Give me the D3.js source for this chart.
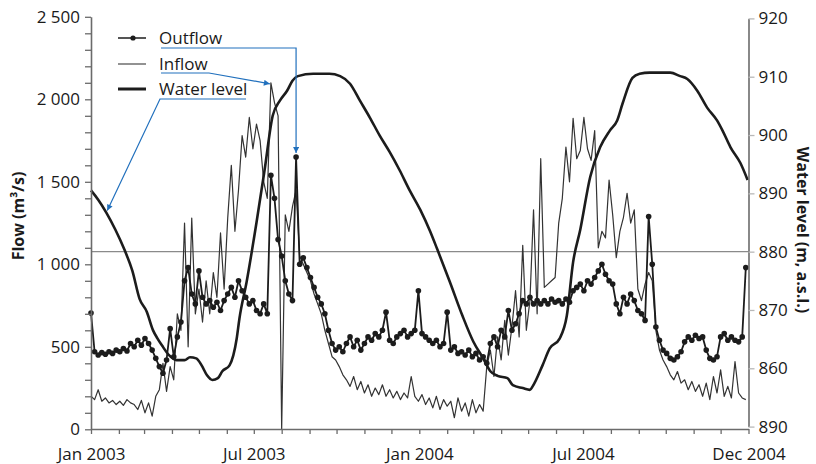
<!DOCTYPE html>
<html><head><meta charset="utf-8">
<script src="https://cdn.jsdelivr.net/npm/d3@7"></script>
<style>
body{margin:0;background:#fff}
text{font-family:"Open Sans","Noto Sans",sans-serif;fill:#1a1a1a}
</style>
</head><body>
<svg id="chart" width="816" height="464"></svg>
<script>
// ---------- data ----------
const startDate = "2003-01-01";
const sampleStepDays = 4;

const outflow = [
  705,470,450,465,455,470,460,480,470,490,475,520,500,540,510,
  550,520,480,430,380,340,420,610,440,560,
  650,900,980,820,760,
  960,800,760,780,740,770,720,780,820,860,800,900,840,800,760,
  780,720,700,760,700,
  1540,1400,1150,1050,900,820,780,1650,1000,1040,980,920,860,800,760,700,600,520,480,500,
  470,520,560,500,540,480,520,560,540,580,560,600,710,540,520,
  560,580,600,560,580,600,840,580,560,540,520,540,500,520,710,
  480,500,460,470,450,480,440,460,420,440,
  400,520,560,500,600,560,720,600,640,700,
  780,760,800,760,780,760,780,760,790,770,780,760,790,770,840,
  860,880,840,900,880,920,960,1000,940,900,880,760,700,800,760,
  820,780,720,700,660,1290,1000,620,540,480,
  460,430,420,440,470,530,560,540,570,550,560,480,430,420,440,560,580,540,560,540,530,560,980
];

const inflow = [
  200,180,240,170,190,160,175,150,170,145,180,160,150,120,175,
  100,160,80,200,240,400,230,380,300,700,
  600,1250,500,1280,700,
  850,650,900,700,950,800,1190,850,1280,1600,
  1200,1450,1780,1650,1890,1700,1850,1750,1500,1400,
  2100,1980,1900,0,1300,1200,1350,1450,1050,1000,950,900,820,760,700,600,520,440,420,380,
  330,300,260,320,240,290,220,270,200,250,210,270,200,240,190,
  230,180,220,190,320,200,170,210,150,190,130,200,120,180,140,
  170,70,190,110,160,80,180,100,150,110,
  380,480,320,560,420,660,450,620,840,560,
  1115,600,780,1330,700,1640,860,880,900,920,1250,1400,1710,1500,1885,
  1640,1690,1890,1700,1630,1810,1100,1200,1160,1510,1300,1040,1200,1285,1430,
  1250,1330,850,780,880,950,900,600,480,420,
  380,330,300,350,280,300,240,290,230,270,200,280,180,320,220,360,200,260,190,410,220,190,180
];

const levelDates = [
  "2003-01-01","2003-01-09","2003-01-18","2003-01-28","2003-02-07","2003-02-16","2003-02-24",
  "2003-03-04","2003-03-11","2003-03-16","2003-03-21","2003-03-29","2003-04-06","2003-04-15",
  "2003-04-21","2003-04-28","2003-05-04","2003-05-10","2003-05-16","2003-05-22","2003-05-27",
  "2003-06-04","2003-06-12","2003-06-15","2003-06-23","2003-07-04","2003-07-13","2003-07-22",
  "2003-07-30","2003-08-07","2003-08-13","2003-08-19","2003-09-05","2003-09-23","2003-10-05",
  "2003-10-16","2003-10-27","2003-11-07","2003-11-18","2003-11-29","2003-12-10","2003-12-21",
  "2004-01-02","2004-01-13","2004-01-21","2004-02-04","2004-02-18","2004-03-01","2004-03-12",
  "2004-03-20","2004-03-28","2004-04-08","2004-04-14","2004-04-25","2004-05-03","2004-05-06",
  "2004-05-17","2004-05-25","2004-06-05","2004-06-13","2004-06-20","2004-06-28","2004-07-09",
  "2004-07-20","2004-07-31","2004-08-08","2004-08-14","2004-08-25","2004-09-02","2004-09-13",
  "2004-09-21","2004-10-06","2004-10-17","2004-10-25","2004-11-05","2004-11-16","2004-11-27",
  "2004-12-03","2004-12-12","2004-12-23","2004-12-31"
];
const levelValues = [
  890.5,888.9,886.7,883.8,880.4,876.7,871.9,
  869.7,866.5,865.1,863.9,862.2,861.4,861.4,
  861.9,861.7,860.5,858.8,858.0,858.3,859.5,
  860.5,865.1,868.5,874.8,885.0,894.0,903.3,
  905.9,907.6,909.3,910.1,910.5,910.5,910.1,
  908.8,905.9,903.0,899.9,897.1,894.0,890.6,
  887.2,883.5,880.4,874.8,869.0,864.6,861.7,
  859.5,858.7,858.3,857.1,856.6,856.3,856.9,
  860.5,863.4,865.1,869.0,878.2,883.8,892.8,
  897.9,900.8,902.5,905.4,909.8,910.5,910.7,
  910.7,910.7,910.1,909.6,907.6,904.7,902.5,
  900.8,897.9,895.2,892.3
];

const flowTicks = [0,500,1000,1500,2000,2500];
const flowTickLabels = ["0","500","1 000","1 500","2 000","2 500"];
const levelTicks = [850,860,870,880,890,900,910,920];
const levelTickLabels = ["890","860","870","880","890","900","910","920"];
const monthLabelDates = ["2003-01-01","2003-07-01","2004-01-01","2004-07-01","2005-01-01"];
const monthLabels = ["Jan 2003","Jul 2003","Jan 2004","Jul 2004","Dec 2004"];
const referenceLevel = 880;
const seriesNames = ["Outflow","Inflow","Water level"];
const flowTitle = "Flow (m³/s)";
const levelTitle = "Water level (m, a.s.l.)";

// ---------- setup ----------
const parse = d3.timeParse("%Y-%m-%d");
const t0 = parse(startDate);
const sampleDate = i => d3.timeDay.offset(t0, i * sampleStepDays);
const outData = outflow.map((v,i)=>({date:sampleDate(i), v}));
const inData = inflow.map((v,i)=>({date:sampleDate(i), v}));
const lvlData = levelDates.map((d,i)=>({date:parse(d), v:levelValues[i]}));

const svg = d3.select("#chart");
const L = 91, R = 748.5, B = 429;
const x = d3.scaleTime().domain([parse("2003-01-01"), parse("2005-01-01")]).range([L, R]);
const yL = d3.scaleLinear().domain([0,2500]).range([429.3, 16.8]);
const yR = d3.scaleLinear().domain([850,920]).range([426.6, 18.4]);

const axisColor = "#6b6b6b";
const ink = "#1c1c1c";
const blue = "#2170bd";

// reference level line
svg.append("line")
  .attr("x1", L).attr("x2", R)
  .attr("y1", yR(referenceLevel)).attr("y2", yR(referenceLevel))
  .attr("stroke", "#8a8a8a").attr("stroke-width", 1.4);

// inflow
svg.append("path").datum(inData)
  .attr("fill","none").attr("stroke","#333").attr("stroke-width",1.2)
  .attr("stroke-linejoin","round")
  .attr("d", d3.line().x(d=>x(d.date)).y(d=>yL(d.v)));

// water level
svg.append("path").datum(lvlData)
  .attr("fill","none").attr("stroke",ink).attr("stroke-width",2.6)
  .attr("stroke-linejoin","round")
  .attr("d", d3.line().curve(d3.curveMonotoneX).x(d=>x(d.date)).y(d=>yR(d.v)));

// outflow
svg.append("path").datum(outData)
  .attr("fill","none").attr("stroke",ink).attr("stroke-width",1.8)
  .attr("stroke-linejoin","round")
  .attr("d", d3.line().x(d=>x(d.date)).y(d=>yL(d.v)));
svg.append("g").selectAll("circle").data(outData).join("circle")
  .attr("cx", d=>x(d.date)).attr("cy", d=>yL(d.v)).attr("r", 2.8)
  .attr("fill", ink);

// ---------- axes ----------
function styleAxis(g, tickColor){
  g.select(".domain").attr("stroke", axisColor).attr("stroke-width", 1.6);
  g.selectAll(".tick line").attr("stroke", tickColor).attr("stroke-width", 1.3);
  g.selectAll(".tick text").attr("font-size", 17).attr("fill", "#1a1a1a")
    .attr("font-family", '"Open Sans","Noto Sans",sans-serif');
}

const minorFlow = d3.range(0, 2501, 100);
const gL = svg.append("g").attr("transform", `translate(${L},0)`)
  .call(d3.axisLeft(yL).tickValues(minorFlow).tickSize(6).tickSizeOuter(0).tickPadding(5)
    .tickFormat(d => { const k = flowTicks.indexOf(d); return k >= 0 ? flowTickLabels[k] : ""; }));
styleAxis(gL, axisColor);

const gR = svg.append("g").attr("transform", `translate(${R},0)`)
  .call(d3.axisRight(yR).tickValues(levelTicks).tickSize(6).tickSizeOuter(0).tickPadding(4)
    .tickFormat((d,i) => levelTickLabels[i]));
styleAxis(gR, "#b8b8b8");

const gB = svg.append("g").attr("transform", `translate(0,${B})`)
  .call(d3.axisBottom(x).ticks(d3.timeMonth.every(1)).tickSize(5).tickSizeOuter(0).tickPadding(14)
    .tickFormat(d => { const k = monthLabelDates.findIndex(s => +parse(s) === +d); return k >= 0 ? monthLabels[k] : ""; }));
styleAxis(gB, axisColor);

// axis titles
svg.append("text").attr("transform", `translate(24,216) rotate(-90)`)
  .attr("text-anchor","middle").attr("font-size",16).attr("font-weight","bold").text(flowTitle);
svg.append("text").attr("transform", `translate(797,230) rotate(90)`)
  .attr("text-anchor","middle").attr("font-size",16).attr("font-weight","bold").text(levelTitle);

// ---------- legend ----------
const legRows = [38, 64, 89];
const lx1 = 118, lx2 = 146, tx = 159;
const lg = svg.append("g");
lg.append("line").attr("x1",lx1).attr("x2",lx2).attr("y1",legRows[0]).attr("y2",legRows[0])
  .attr("stroke",ink).attr("stroke-width",1.5);
lg.append("circle").attr("cx",(lx1+lx2)/2+1).attr("cy",legRows[0]).attr("r",2.6).attr("fill",ink);
lg.append("line").attr("x1",lx1).attr("x2",lx2).attr("y1",legRows[1]).attr("y2",legRows[1])
  .attr("stroke","#3a3a3a").attr("stroke-width",1.1);
lg.append("line").attr("x1",lx1).attr("x2",lx2).attr("y1",legRows[2]).attr("y2",legRows[2])
  .attr("stroke",ink).attr("stroke-width",3);
seriesNames.forEach((n,i)=>{
  lg.append("text").attr("x",tx).attr("y",legRows[i]).attr("dy","0.36em")
    .attr("font-size",17).text(n);
});

// ---------- blue callouts ----------
svg.append("defs").append("marker").attr("id","arr")
  .attr("viewBox","0 0 10 10").attr("refX",10).attr("refY",5)
  .attr("markerWidth",7).attr("markerHeight",6).attr("markerUnits","userSpaceOnUse")
  .attr("orient","auto")
  .append("path").attr("d","M0,0 L10,5 L0,10 z").attr("fill",blue);

const outPeakIdx = outflow.indexOf(d3.max(outflow));
const inPeakIdx = inflow.indexOf(d3.max(inflow));
const op = [x(sampleDate(outPeakIdx)), yL(outflow[outPeakIdx])];
const ip = [x(sampleDate(inPeakIdx)), yL(inflow[inPeakIdx])];
const wp = [x(lvlData[2].date), yR(lvlData[2].v)];

const cl = d3.line();
svg.append("path").attr("d", cl([[tx+2, legRows[0]+10],[op[0], legRows[0]+10],[op[0], op[1]-4]]))
  .attr("fill","none").attr("stroke",blue).attr("stroke-width",1.2).attr("marker-end","url(#arr)");
svg.append("path").attr("d", cl([[tx+2, legRows[1]+9],[209, legRows[1]+9],[ip[0]-1, ip[1]+1]]))
  .attr("fill","none").attr("stroke",blue).attr("stroke-width",1.2).attr("marker-end","url(#arr)");
svg.append("path").attr("d", cl([[246, legRows[2]+10],[tx+1, legRows[2]+10],[wp[0]+1, wp[1]-2]]))
  .attr("fill","none").attr("stroke",blue).attr("stroke-width",1.2).attr("marker-end","url(#arr)");
</script>
</body></html>
